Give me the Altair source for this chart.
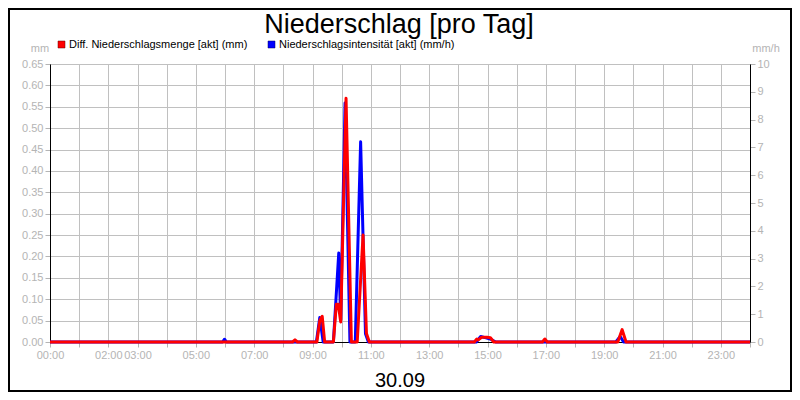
import altair as alt
import pandas as pd

# --- data (time in minutes since 00:00 on 30.09) ---
red_t = [0, 499, 504, 509, 549, 555, 560, 565, 583, 589, 593, 598, 609, 620,
         632, 644, 651, 657, 873, 878, 881, 888, 899, 906, 913,
         1013, 1018, 1023, 1168, 1177, 1185, 1440]
red_v = [0, 0, 0.005, 0, 0, 0.05, 0.06, 0, 0, 0.088, 0.088, 0.047, 0.57, 0,
         0, 0.25, 0.02, 0, 0, 0.007, 0.005, 0.011, 0.011, 0.01, 0,
         0, 0.007, 0, 0, 0.029, 0, 0]

blue_t = [0, 355, 359, 363, 548, 555, 562, 583, 594, 598, 607, 617,
          628, 639, 649, 655, 877, 886, 897, 907, 917, 1164, 1173, 1180, 1440]
blue_v = [0, 0, 0.1, 0, 0, 0.88, 0, 0, 3.2, 0.8, 8.6, 0,
          0, 7.2, 0.3, 0, 0, 0.2, 0.15, 0.1, 0, 0, 0.2, 0, 0]

hour_ticks = [0, 60, 120, 180, 240, 300, 360, 420, 480, 540, 600, 660, 720,
              780, 840, 900, 960, 1020, 1080, 1140, 1200, 1260, 1320, 1380, 1440]
labelled_ticks = [0, 120, 180, 300, 420, 540, 660, 780, 900, 1020, 1140, 1260, 1380]
left_ticks = [0.0, 0.05, 0.1, 0.15, 0.2, 0.25, 0.3, 0.35, 0.4, 0.45, 0.5, 0.55, 0.6, 0.65]
right_ticks = [0, 1, 2, 3, 4, 5, 6, 7, 8, 9, 10]

title_text = "Niederschlag [pro Tag]"
legend_red = "Diff. Niederschlagsmenge [akt] (mm)"
legend_blue = "Niederschlagsintensität [akt] (mm/h)"
date_text = "30.09"
left_unit = "mm"
right_unit = "mm/h"

red_df = pd.DataFrame({"t": red_t, "v": red_v})
blue_df = pd.DataFrame({"t": blue_t, "v": blue_v})

FONT = "Liberation Sans"
GRAY = "#b4b4b4"
GRID = "#c0c0c0"

label_expr = (
    "indexof(" + str(labelled_ticks) + ", datum.value) >= 0 ? "
    "(datum.value < 600 ? '0' : '') + floor(datum.value / 60) + ':00' : ''"
)

x_axis = alt.Axis(values=hour_ticks, labelExpr=label_expr, title=None, grid=True,
                  gridColor=GRID, labelOverlap=False, labelFlush=False)
x_enc = alt.X("t:Q", scale=alt.Scale(domain=[0, 1440], nice=False, zero=False), axis=x_axis)

blue_line = alt.Chart(blue_df).mark_line(
    color="#0000ff", strokeWidth=3, strokeJoin="round"
).encode(
    x=x_enc,
    y=alt.Y("v:Q", scale=alt.Scale(domain=[0, 10], nice=False),
            axis=alt.Axis(orient="right", values=right_ticks, format="d",
                          title=None, grid=False)),
)

red_line = alt.Chart(red_df).mark_line(
    color="#ff0000", strokeWidth=3, strokeJoin="round"
).encode(
    x=x_enc,
    y=alt.Y("v:Q", scale=alt.Scale(domain=[0, 0.65], nice=False),
            axis=alt.Axis(orient="left", values=left_ticks, format=".2f",
                          title=None, grid=True, gridColor=GRID)),
)


def txt(s, x, y, size, color="black", align="center"):
    return alt.Chart(pd.DataFrame({"s": [s]})).mark_text(
        font=FONT, fontSize=size, color=color, align=align, baseline="alphabetic"
    ).encode(text="s:N", x=alt.value(x), y=alt.value(y))


def sq(x, color):
    return alt.Chart(pd.DataFrame({"s": [0]})).mark_rect(
        color=color, stroke="#600000" if color == "#ff0000" else "#000060", strokeWidth=0.5
    ).encode(x=alt.value(x), x2=alt.value(x + 7), y=alt.value(-23), y2=alt.value(-16))


border = alt.Chart(pd.DataFrame({"s": [0]})).mark_rect(
    fill=None, stroke="black", strokeWidth=2
).encode(x=alt.value(-41), x2=alt.value(741), y=alt.value(-55), y2=alt.value(327))

annot = alt.layer(
    border,
    txt(title_text, 349, -31, 27),
    sq(8, "#ff0000"),
    txt(legend_red, 19, -16, 11, align="left"),
    sq(218, "#0000ff"),
    txt(legend_blue, 229, -16, 11, align="left"),
    txt(left_unit, -10, -12, 11, color=GRAY),
    txt(right_unit, 716, -12, 11, color=GRAY),
    txt(date_text, 350, 323, 20),
)

chart = alt.layer(blue_line, red_line, annot).resolve_scale(y="independent").properties(
    width=700, height=278,
    autosize=alt.AutoSizeParams(type="none"),
    padding={"left": 42, "top": 56, "right": 42, "bottom": 50},
    background="white",
).configure_view(
    stroke="black", strokeWidth=1
).configure_axis(
    labelFont=FONT, labelFontSize=11, labelColor=GRAY, tickColor=GRAY, tickSize=5,
    labelPadding=2, domainColor="black", domainWidth=1, gridWidth=1,
)

chart.save("out.html", embed_options={"renderer": "svg", "actions": False})
